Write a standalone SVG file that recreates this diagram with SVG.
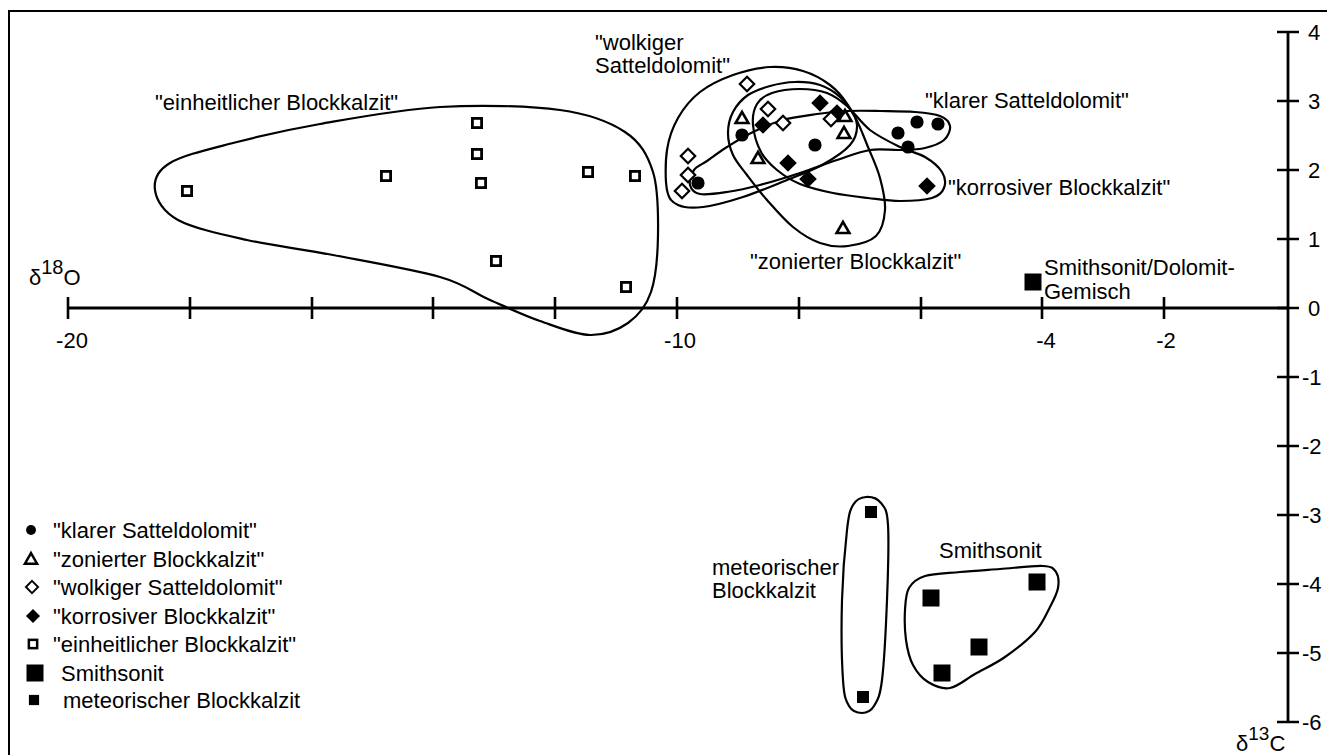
<svg xmlns="http://www.w3.org/2000/svg" xmlns:xlink="http://www.w3.org/1999/xlink" width="1327" height="755" viewBox="0 0 1327 755">
<style>
text{font-family:"Liberation Sans",Arial,Helvetica,sans-serif;font-size:22px;fill:#000}
.ax{stroke:#000;stroke-width:2.8;fill:none}
.tk{stroke:#000;stroke-width:2.6;fill:none}
.enc{stroke:#000;stroke-width:2.2;fill:none}
.frame{stroke:#000;stroke-width:2;fill:none}
.mid{text-anchor:middle}
</style>
<defs>
<rect id="osq" x="-4.6" y="-4.6" width="9.2" height="9.2" fill="#fff" stroke="#000" stroke-width="2.8"/>
<circle id="fc" r="6.6" fill="#000"/>
<path id="od" d="M0,-7.2L7.2,0L0,7.2L-7.2,0Z" fill="#fff" stroke="#000" stroke-width="2.2"/>
<path id="fd" d="M0,-8.8L8.8,0L0,8.8L-8.8,0Z" fill="#000"/>
<path id="ot" d="M0,-6.2L6.4,5L-6.4,5Z" fill="#fff" stroke="#000" stroke-width="2.6" stroke-linejoin="miter"/>
<rect id="bsq" x="-8.5" y="-8.5" width="17" height="17" fill="#000"/>
<rect id="ssq" x="-6" y="-6" width="12" height="12" fill="#000"/>
</defs>

<g id="frame">
<path class="frame" d="M9,755V11H1327"/>
</g>

<g id="connectors">
<g id="x-axis">
<path class="ax" d="M68,308H1288"/>
<path class="tk" d="M68,297V319M190,297V319M312,297V319M433,297V319M555,297V319M677,297V319M799,297V319M921,297V319M1042,297V319M1164,297V319"/>
<text class="mid" x="72" y="348">-20</text>
<text class="mid" x="680" y="348">-10</text>
<text class="mid" x="1046" y="348">-4</text>
<text class="mid" x="1166" y="348">-2</text>
<text x="29" y="285" font-size="32">δ<tspan font-size="20" dy="-11">18</tspan><tspan dy="11">O</tspan></text>
</g>
<g id="y-axis">
<path class="ax" d="M1288,32V722"/>
<path class="tk" d="M1277,32H1299M1277,101H1299M1277,170H1299M1277,239H1299M1277,308H1299M1277,377H1299M1277,446H1299M1277,515H1299M1277,584H1299M1277,653H1299M1277,722H1299"/>
<text x="1308" y="40">4</text>
<text x="1308" y="109">3</text>
<text x="1308" y="178">2</text>
<text x="1308" y="247">1</text>
<text x="1308" y="316">0</text>
<text x="1302" y="385">-1</text>
<text x="1302" y="454">-2</text>
<text x="1302" y="523">-3</text>
<text x="1302" y="592">-4</text>
<text x="1302" y="661">-5</text>
<text x="1302" y="730">-6</text>
<text x="1236" y="751" font-size="31">δ<tspan font-size="19" dy="-11">13</tspan><tspan dy="11">C</tspan></text>
</g>
</g>

<g id="einheitlicher">
<path class="enc" d="M155,190C153.7,180.5 157,170.8 170,163C183,155.2 208,149.5 233,143C258,136.5 285.5,130 320,124C354.5,118 400,109.3 440,107C480,104.7 529.2,105.8 560,110C590.8,114.2 609.5,121.7 625,132C640.5,142.3 647.5,154.8 653,172C658.5,189.2 658.3,215 658,235C657.7,255 656,277.3 651,292C646,306.7 638.2,315.8 628,323C617.8,330.2 604.7,335.3 590,335C575.3,334.7 556.7,326.8 540,321C523.3,315.2 506.7,307.3 490,300C473.3,292.7 466.2,284.5 440,277C413.8,269.5 365.2,261.2 333,255C300.8,248.8 272.8,245.8 247,240C221.2,234.2 193.3,228.3 178,220C162.7,211.7 156.3,199.5 155,190Z"/>
<use href="#osq" x="187" y="191"/>
<use href="#osq" x="386" y="176"/>
<use href="#osq" x="477" y="123"/>
<use href="#osq" x="477" y="154"/>
<use href="#osq" x="481" y="183"/>
<use href="#osq" x="588" y="172"/>
<use href="#osq" x="635" y="176"/>
<use href="#osq" x="496" y="261"/>
<use href="#osq" x="626" y="287"/>
<text x="155" y="110">"einheitlicher Blockkalzit"</text>
</g>

<g id="wolkiger">
<path class="enc" d="M667,150C668.8,138 672.5,127.7 678,118C683.5,108.3 690.8,99.2 700,92C709.2,84.8 721.3,79.2 733,75C744.7,70.8 758.3,67.7 770,67C781.7,66.3 793,68 803,71C813,74 822.5,79.3 830,85C837.5,90.7 843.5,98.3 848,105C852.5,111.7 856.7,118.3 857,125C857.3,131.7 855.8,138.3 850,145C844.2,151.7 832.5,159.2 822,165C811.5,170.8 800.2,174.7 787,180C773.8,185.3 757,192.5 743,197C729,201.5 713.8,205.7 703,207C692.2,208.3 684,207.8 678,205C672,202.2 668.8,199.2 667,190C665.2,180.8 665.2,162 667,150Z"/>
<text x="595" y="50">"wolkiger</text>
<text x="595" y="73">Satteldolomit"</text>
</g>

<g id="zonierter">
<path class="enc" d="M728,133C728,125.8 729.7,118.3 733,112C736.3,105.7 741.8,99.3 748,95C754.2,90.7 762.2,88.2 770,86C777.8,83.8 786.7,82.2 795,82C803.3,81.8 812.5,82.5 820,85C827.5,87.5 834.2,91.7 840,97C845.8,102.3 850.3,108.7 855,117C859.7,125.3 863.8,136.8 868,147C872.2,157.2 877.2,167.5 880,178C882.8,188.5 885.7,200.3 885,210C884.3,219.7 882.2,230 876,236C869.8,242 857.3,244.8 848,246C838.7,247.2 829.2,246.2 820,243C810.8,239.8 801.8,234.2 793,227C784.2,219.8 774.7,208.7 767,200C759.3,191.3 752.7,182.5 747,175C741.3,167.5 736.2,162 733,155C729.8,148 728,140.2 728,133Z"/>
<text x="750" y="269">"zonierter Blockkalzit"</text>
</g>

<g id="korrosiver">
<path class="enc" d="M753,125C752.3,117 753.8,109.3 757,104C760.2,98.7 764.8,95.5 772,93C779.2,90.5 790.8,89 800,89C809.2,89 819.2,90.2 827,93C834.8,95.8 839.8,99.8 847,106C854.2,112.2 861.2,123.2 870,130C878.8,136.8 890.8,142.5 900,147C909.2,151.5 918,152.8 925,157C932,161.2 938.8,166.8 942,172C945.2,177.2 945.7,183.7 944,188C942.3,192.3 939.3,195.8 932,198C924.7,200.2 910.7,201 900,201C889.3,201 879.2,199.3 868,198C856.8,196.7 844.3,195.3 833,193C821.7,190.7 809.3,187.8 800,184C790.7,180.2 783.5,175.3 777,170C770.5,164.7 765,159.5 761,152C757,144.5 753.7,133 753,125Z"/>
<text x="948" y="195">"korrosiver Blockkalzit"</text>
</g>

<g id="klarer">
<path class="enc" d="M690,185C689,181 691.2,174 694,170C696.8,166 701.5,164.8 707,161C712.5,157.2 719.3,151.8 727,147C734.7,142.2 743.7,136.5 753,132C762.3,127.5 772.3,123 783,120C793.7,117 806.3,115.5 817,114C827.7,112.5 836.5,111.5 847,111C857.5,110.5 868.7,110.8 880,111C891.3,111.2 905,111.2 915,112C925,112.8 934.2,113.7 940,116C945.8,118.3 949.3,122 950,126C950.7,130 948.2,136.3 944,140C939.8,143.7 932.3,146.3 925,148C917.7,149.7 909.2,149.7 900,150C890.8,150.3 880.5,148.3 870,150C859.5,151.7 848.7,156.2 837,160C825.3,163.8 812.8,168.8 800,173C787.2,177.2 772.2,181.8 760,185C747.8,188.2 737,190.5 727,192C717,193.5 706.2,195.2 700,194C693.8,192.8 691,189 690,185Z"/>
<text x="925" y="108">"klarer Satteldolomit"</text>
</g>

<g id="markers-top">
<use href="#od" x="747" y="84"/>
<use href="#od" x="768" y="109"/>
<use href="#od" x="783" y="123"/>
<use href="#od" x="688" y="156"/>
<use href="#od" x="688" y="175"/>
<use href="#od" x="682" y="191"/>
<use href="#ot" x="742" y="118"/>
<use href="#ot" x="758" y="158"/>
<use href="#ot" x="843" y="228"/>
<use href="#fd" x="820" y="103"/>
<use href="#ot" x="845" y="116"/>
<use href="#fd" x="837" y="113"/>
<use href="#od" x="831" y="119"/>
<use href="#ot" x="844" y="133"/>
<use href="#fd" x="763" y="125"/>
<use href="#fd" x="788" y="163"/>
<use href="#fd" x="808" y="179"/>
<use href="#fd" x="927" y="186"/>
<use href="#fc" x="742" y="135"/>
<use href="#fc" x="698" y="183"/>
<use href="#fc" x="815" y="145"/>
<use href="#fc" x="898" y="133"/>
<use href="#fc" x="917" y="122"/>
<use href="#fc" x="938" y="124"/>
<use href="#fc" x="908" y="147"/>
</g>

<g id="gemisch">
<use href="#bsq" x="1033" y="282"/>
<text x="1044" y="275" font-size="21.5">Smithsonit/Dolomit-</text>
<text x="1044" y="299" font-size="21.5">Gemisch</text>
</g>

<g id="meteorischer">
<path class="enc" d="M866,497C870.7,496.7 877.3,498.3 881,503C884.7,507.7 887,508.8 888,525C889,541.2 888,574.2 887,600C886,625.8 884.2,662.3 882,680C879.8,697.7 877.3,700.5 874,706C870.7,711.5 866.2,713 862,713C857.8,713 852.2,711.5 849,706C845.8,700.5 844.2,697.7 843,680C841.8,662.3 841.3,625 842,600C842.7,575 845.2,545.8 847,530C848.8,514.2 849.8,510.5 853,505C856.2,499.5 861.3,497.3 866,497Z"/>
<use href="#ssq" x="871" y="512"/>
<use href="#ssq" x="863" y="697"/>
<text x="712" y="575">meteorischer</text>
<text x="712" y="598">Blockkalzit</text>
</g>

<g id="smithsonit">
<path class="enc" d="M905,610C905.5,601.3 905.7,593.7 909,588C912.3,582.3 916.5,578.7 925,576C933.5,573.3 947.5,573.2 960,572C972.5,570.8 986.2,570 1000,569C1013.8,568 1033.7,565.5 1043,566C1052.3,566.5 1053.5,568.3 1056,572C1058.5,575.7 1059,582.2 1058,588C1057,593.8 1053.8,599.7 1050,607C1046.2,614.3 1042.5,623.7 1035,632C1027.5,640.3 1015,650 1005,657C995,664 984.2,668.8 975,674C965.8,679.2 957.8,686.7 950,688C942.2,689.3 934.2,685.8 928,682C921.8,678.2 916.7,672 913,665C909.3,658 907.3,649.2 906,640C904.7,630.8 904.5,618.7 905,610Z"/>
<use href="#bsq" x="931" y="598"/>
<use href="#bsq" x="1037" y="582"/>
<use href="#bsq" x="979" y="647"/>
<use href="#bsq" x="942" y="673"/>
<text x="939" y="558">Smithsonit</text>
</g>

<g id="legend">
<use href="#fc" transform="translate(31,530) scale(0.75)"/>
<text x="53" y="538">"klarer Satteldolomit"</text>
<use href="#ot" transform="translate(31,559) scale(0.95)"/>
<text x="53" y="567">"zonierter Blockkalzit"</text>
<use href="#od" transform="translate(32,587) scale(0.85)"/>
<text x="53" y="595">"wolkiger Satteldolomit"</text>
<use href="#fd" transform="translate(33,616) scale(0.8)"/>
<text x="53" y="624">"korrosiver Blockkalzit"</text>
<use href="#osq" transform="translate(33,644) scale(0.9)"/>
<text x="53" y="652">"einheitlicher Blockkalzit"</text>
<use href="#bsq" transform="translate(35,673) scale(1)"/>
<text x="61" y="681">Smithsonit</text>
<use href="#ssq" transform="translate(34,700) scale(0.85)"/>
<text x="63" y="708">meteorischer Blockkalzit</text>
</g>
</svg>
